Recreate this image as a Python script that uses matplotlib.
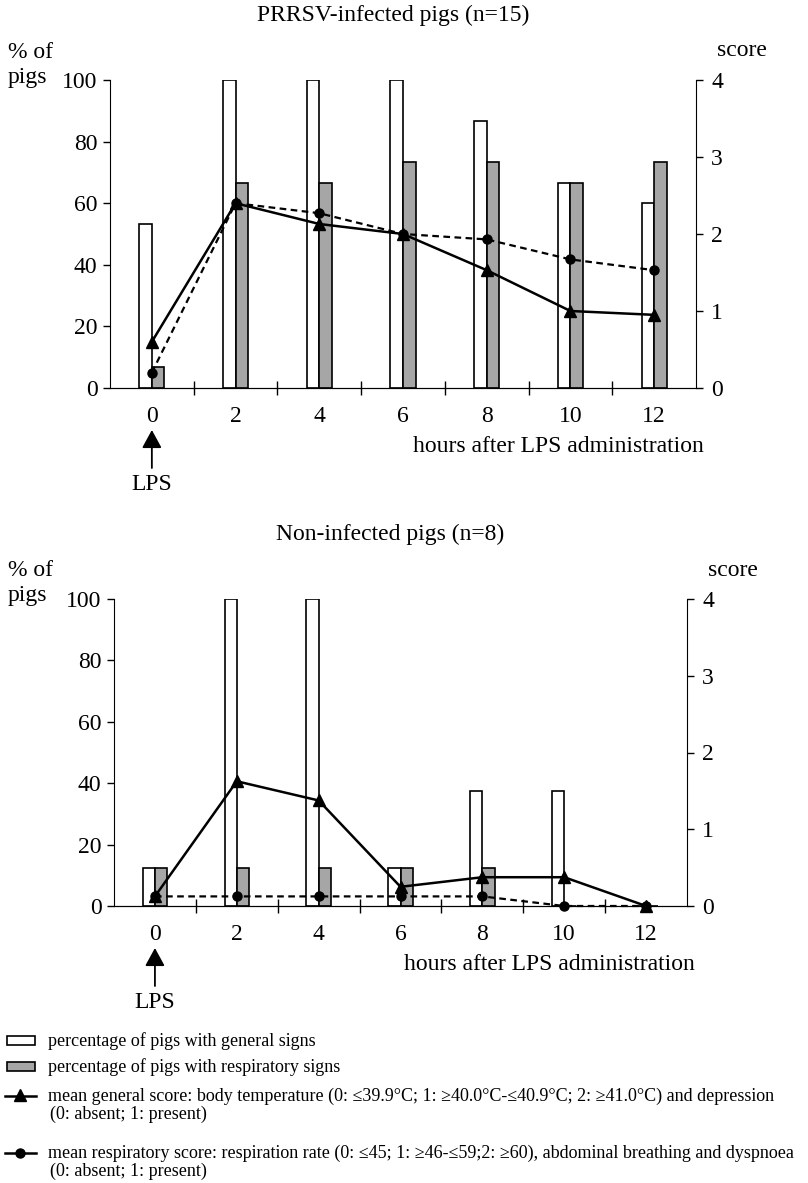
import matplotlib
matplotlib.use("Agg")
import matplotlib.pyplot as plt
from matplotlib.patches import Rectangle
from matplotlib.transforms import offset_copy
import numpy as np

# time points (hours after LPS)
hours = np.array([0, 2, 4, 6, 8, 10, 12])

# PRRSV-infected pigs (n=15)
prrsv_general_pct = [53.3, 100, 100, 100, 86.7, 66.7, 60.0]
prrsv_resp_pct = [6.7, 66.7, 66.7, 73.3, 73.3, 66.7, 73.3]
prrsv_general_score = [0.6, 2.4, 2.13, 2.0, 1.53, 1.0, 0.95]
prrsv_resp_score = [0.2, 2.4, 2.27, 2.0, 1.93, 1.67, 1.53]

# Non-infected pigs (n=8)
non_general_pct = [12.5, 100, 100, 12.5, 37.5, 37.5, 0]
non_resp_pct = [12.5, 12.5, 12.5, 12.5, 12.5, 0, 0]
non_general_score = [0.125, 1.625, 1.375, 0.25, 0.375, 0.375, 0]
non_resp_score = [0.125, 0.125, 0.125, 0.125, 0.125, 0, 0]

W, H = 808, 1183
GRAY = '#a6a6a6'
FS = 17
plt.rcParams['font.family'] = ['Liberation Serif', 'DejaVu Serif']

fig = plt.figure(figsize=(W / 100, H / 100), dpi=100)


def px_rect(left, top, right, bottom):
    return [left / W, 1 - bottom / H, (right - left) / W, (bottom - top) / H]


def ftext(x, y, s, **kw):
    fig.text(x / W, 1 - y / H, s, **kw)


def draw_panel(rect, title, gen_pct, resp_pct, gen_score, resp_score):
    left, top, right, bottom = rect
    ax = fig.add_axes(px_rect(left, top, right, bottom))
    ax.bar(hours, gen_pct, width=-0.3, align='edge', color='white',
           edgecolor='black', linewidth=1.2)
    ax.bar(hours, resp_pct, width=0.3, align='edge', color=GRAY,
           edgecolor='black', linewidth=1.2)
    ax.set_xlim(-1, 13)
    ax.set_ylim(0, 100)
    ax.set_yticks(range(0, 101, 20))
    ax.set_xticks(range(1, 12, 2))
    ax.set_xticklabels([])
    ax.set_xticks(hours, minor=True)
    ax.set_xticklabels([str(h) for h in hours], minor=True)
    ax.tick_params(axis='y', direction='out', length=5, width=1,
                   labelsize=FS, pad=4)
    ax.tick_params(axis='x', which='major', direction='inout', length=10,
                   width=1)
    ax.tick_params(axis='x', which='minor', length=0, labelsize=FS, pad=13)
    ax.spines['top'].set_visible(False)
    ax.spines['right'].set_visible(False)

    ax2 = ax.twinx()
    ax2.plot(hours, gen_score, color='black', lw=1.8, marker='^',
             markersize=8, clip_on=False)
    ax2.plot(hours, resp_score, color='black', lw=1.6, ls=(0, (3, 2)),
             marker='o', markersize=6.5, clip_on=False)
    ax2.set_ylim(0, 4)
    ax2.set_yticks(range(0, 5))
    ax2.tick_params(axis='y', direction='out', length=5, width=1,
                    labelsize=FS, pad=6)
    ax2.spines['top'].set_visible(False)
    ax2.spines['left'].set_visible(False)

    # LPS arrow under hour 0
    tip = offset_copy(ax.transData, fig=fig, x=0, y=-42, units='dots')
    tail = offset_copy(ax.transData, fig=fig, x=0, y=-80, units='dots')
    ax.annotate('', xy=(0, 0), xycoords=tip, xytext=(0, 0), textcoords=tail,
                arrowprops=dict(arrowstyle='-|>,head_length=0.55,head_width=0.3',
                                color='black', lw=1.3, mutation_scale=20,
                                shrinkA=0, shrinkB=0),
                annotation_clip=False)
    lps = offset_copy(ax.transData, fig=fig, x=0, y=-96, units='dots')
    ax.text(0, 0, 'LPS', transform=lps, ha='center', va='center',
            fontsize=FS, clip_on=False)

    ftext((left + right) / 2 - 10, top - 65, title, ha='center', va='center',
          fontsize=FS)
    ftext(8, top - 28, '% of', ha='left', va='center', fontsize=FS)
    ftext(8, top - 3, 'pigs', ha='left', va='center', fontsize=FS)
    ftext(right + 21, top - 29, 'score', ha='left', va='center', fontsize=FS)
    ftext(right + 8, bottom + 58, 'hours after LPS administration',
          ha='right', va='center', fontsize=FS)
    return ax


draw_panel((110, 80, 696, 388), 'PRRSV-infected pigs (n=15)',
           prrsv_general_pct, prrsv_resp_pct, prrsv_general_score,
           prrsv_resp_score)
draw_panel((114, 599, 687, 906), 'Non-infected pigs (n=8)',
           non_general_pct, non_resp_pct, non_general_score, non_resp_score)

# legend drawn in a pixel-coordinate overlay
leg = fig.add_axes([0, 0, 1, 1])
leg.set_xlim(0, W)
leg.set_ylim(H, 0)
leg.axis('off')

leg.add_patch(Rectangle((7, 1036), 28, 9, facecolor='white',
                        edgecolor='black', lw=1.2))
leg.add_patch(Rectangle((7, 1062), 28, 9, facecolor=GRAY,
                        edgecolor='black', lw=1.2))
leg.plot([5, 36], [1096, 1096], color='black', lw=1.8)
leg.plot([20], [1095], color='black', marker='^', markersize=8)
leg.plot([5, 36], [1153, 1153], color='black', lw=1.8)
leg.plot([20], [1153], color='black', marker='o', markersize=6.5)

legend_fs = 13
leg.text(48, 1041, 'percentage of pigs with general signs', va='center',
         fontsize=legend_fs)
leg.text(48, 1067, 'percentage of pigs with respiratory signs', va='center',
         fontsize=legend_fs)
leg.text(48, 1096, 'mean general score: body temperature (0: \u226439.9\u00b0C; '
         '1: \u226540.0\u00b0C-\u226440.9\u00b0C; 2: \u226541.0\u00b0C) and depression',
         va='center', fontsize=legend_fs)
leg.text(50, 1114, '(0: absent; 1: present)', va='center', fontsize=legend_fs)
leg.text(48, 1153, 'mean respiratory score: respiration rate (0: \u226445; '
         '1: \u226546-\u226459;2: \u226560), abdominal breathing and dyspnoea',
         va='center', fontsize=legend_fs)
leg.text(50, 1171, '(0: absent; 1: present)', va='center', fontsize=legend_fs)

fig.savefig('out.png', dpi=100)
